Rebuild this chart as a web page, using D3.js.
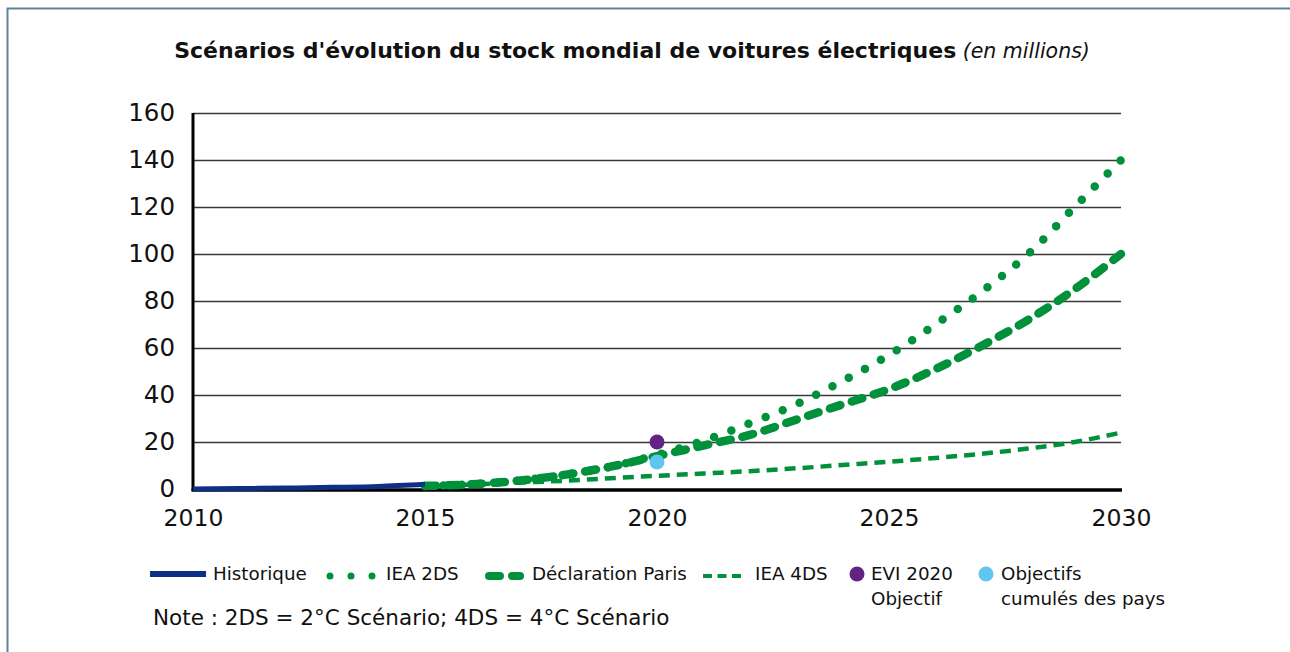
<!DOCTYPE html>
<html>
<head>
<meta charset="utf-8">
<script src="https://cdn.jsdelivr.net/npm/d3@7"></script>
<style>
  body { margin: 0; background: #fff; }
  svg { display: block; font-family: 'DejaVu Sans', sans-serif; }
</style>
</head>
<body>
<div id="chart"></div>
<script>
// CONST and GLOBALS
let width = 1290,
  height = 652;

// DATA (millions of electric cars)
let histYears = [2010, 2011, 2012, 2013, 2014, 2015];
let histValues = [0.05, 0.2, 0.4, 0.7, 1.1, 2.0];

let scenYears = [2015, 2016, 2017, 2018, 2019, 2020, 2021, 2022, 2023, 2024, 2025, 2026, 2027, 2028, 2029, 2030];
let iea2ds = [1.3, 2, 3.5, 6, 9.5, 14.5, 20.5, 28, 36, 46, 57, 70, 84, 100, 120, 140];
let paris = [1.3, 2, 3.5, 6, 9.5, 14, 18.5, 23, 29.5, 36, 42.5, 51, 61, 72, 85, 100];
let iea4ds = [1.3, 1.9, 2.7, 3.5, 4.6, 5.6, 6.6, 7.6, 8.8, 10.2, 11.6, 13.2, 15, 17.2, 20, 24];

let targetYear = 2020;
let eviTarget = 20;
let countryTargets = 11.5;

let yTicks = [0, 20, 40, 60, 80, 100, 120, 140, 160];
let xTicks = [2010, 2015, 2020, 2025, 2030];

let green = '#00913a';
let navy = '#0d2f85';
let purple = '#642283';
let lightBlue = '#5ec6ef';

let svg, xScale, yScale;

function init() {
  xScale = d3.scaleLinear().domain([2010, 2030]).range([193, 1121]);
  yScale = d3.scaleLinear().domain([0, 160]).range([489, 113]);

  svg = d3
    .select('#chart')
    .append('svg')
    .attr('width', width)
    .attr('height', height);

  // outer frame (only top and left edges visible)
  svg
    .append('rect')
    .attr('x', 7.5)
    .attr('y', 8.5)
    .attr('width', 1400)
    .attr('height', 800)
    .attr('fill', 'none')
    .attr('stroke', '#5e8297')
    .attr('stroke-width', 2);

  // title
  let title = svg
    .append('text')
    .attr('x', 632)
    .attr('y', 58)
    .attr('text-anchor', 'middle')
    .attr('font-size', 22)
    .attr('fill', '#111');
  title
    .append('tspan')
    .attr('font-weight', 'bold')
    .text("Scénarios d'évolution du stock mondial de voitures électriques");
  title
    .append('tspan')
    .attr('font-style', 'italic')
    .attr('font-size', 20.5)
    .text(' (en millions)');

  // grid lines
  svg
    .append('g')
    .attr('class', 'grid-lines')
    .attr('transform', `translate(${xScale(2010)},0)`)
    .call(
      d3.axisRight(yScale)
        .tickValues(yTicks.filter(d => d > 0))
        .tickSize(xScale(2030) - xScale(2010))
        .tickFormat('')
    )
    .call(g => g.select('.domain').remove())
    .call(g => g.selectAll('line').attr('stroke', '#3a3a3a').attr('stroke-width', 1.3));

  // y axis labels
  svg
    .append('g')
    .attr('class', 'axis y-axis')
    .attr('transform', `translate(${xScale(2010) - 15},0)`)
    .call(d3.axisLeft(yScale).tickValues(yTicks).tickSize(0).tickFormat(d3.format('d')))
    .call(g => g.select('.domain').remove())
    .call(g => g.selectAll('text').attr('font-size', 24.5).attr('fill', '#111').attr('font-family', "'DejaVu Sans', sans-serif"));

  // x axis labels
  svg
    .append('g')
    .attr('class', 'axis x-axis')
    .attr('transform', `translate(0,${yScale(0) + 17})`)
    .call(d3.axisBottom(xScale).tickValues(xTicks).tickSize(0).tickFormat(d3.format('d')))
    .call(g => g.select('.domain').remove())
    .call(g => g.selectAll('text').attr('font-size', 23.5).attr('fill', '#111').attr('font-family', "'DejaVu Sans', sans-serif"));

  // axis lines
  svg
    .append('line')
    .attr('x1', xScale(2010))
    .attr('x2', xScale(2010))
    .attr('y1', yScale(160))
    .attr('y2', yScale(0) + 2)
    .attr('stroke', '#000')
    .attr('stroke-width', 3);
  svg
    .append('line')
    .attr('x1', xScale(2010) - 1.5)
    .attr('x2', xScale(2030) + 1)
    .attr('y1', yScale(0) + 1)
    .attr('y2', yScale(0) + 1)
    .attr('stroke', '#000')
    .attr('stroke-width', 3.5);

  draw();
}

function draw() {
  let line = d3
    .line()
    .x(d => xScale(d[0]))
    .y(d => yScale(d[1]))
    .curve(d3.curveMonotoneX);

  let series = [
    { key: '4ds', values: iea4ds, width: 4.5, dash: '11 7', cap: 'butt' },
    { key: 'paris', values: paris, width: 8.5, dash: '11 12', cap: 'round' },
    { key: '2ds', values: iea2ds, width: 8.5, dash: null, cap: 'round' },
  ];

  svg
    .selectAll('.scenario')
    .data(series, d => d.key)
    .join('path')
    .attr('class', 'scenario')
    .attr('d', d => line(scenYears.map((y, i) => [y, d.values[i]])))
    .attr('fill', 'none')
    .attr('stroke', green)
    .attr('stroke-width', d => d.width)
    .attr('stroke-linecap', d => d.cap)
    .attr('stroke-dasharray', function (d) {
      if (d.dash) return d.dash;
      // dots: spread so that one dot sits near each end of the curve
      let len = this.getTotalLength();
      let n = Math.round(len / 18.5);
      return `0 ${(len - 0.6) / n}`;
    });

  // historical line
  svg
    .append('path')
    .attr('d', line(histYears.map((y, i) => [y, histValues[i]])))
    .attr('fill', 'none')
    .attr('stroke', navy)
    .attr('stroke-width', 5);

  // 2020 targets
  svg
    .selectAll('.target')
    .data([
      { v: eviTarget, c: purple },
      { v: countryTargets, c: lightBlue },
    ])
    .join('circle')
    .attr('class', 'target')
    .attr('cx', xScale(targetYear))
    .attr('cy', d => yScale(d.v))
    .attr('r', 7.5)
    .attr('fill', d => d.c);

  // LEGEND
  let lg = svg.append('g').attr('class', 'legend').attr('font-size', 18.3).attr('fill', '#111');
  let ly = 574;

  lg.append('line')
    .attr('x1', 150).attr('x2', 206).attr('y1', ly).attr('y2', ly)
    .attr('stroke', navy).attr('stroke-width', 6);
  lg.append('text').attr('x', 213).attr('y', ly + 6).text('Historique');

  lg.append('line')
    .attr('x1', 330).attr('x2', 373).attr('y1', ly + 2).attr('y2', ly + 2)
    .attr('stroke', green).attr('stroke-width', 7).attr('stroke-linecap', 'round')
    .attr('stroke-dasharray', '0 21');
  lg.append('text').attr('x', 386).attr('y', ly + 6).text('IEA 2DS');

  lg.append('line')
    .attr('x1', 489).attr('x2', 520).attr('y1', ly + 2).attr('y2', ly + 2)
    .attr('stroke', green).attr('stroke-width', 8).attr('stroke-linecap', 'round')
    .attr('stroke-dasharray', '11 12');
  lg.append('text').attr('x', 532).attr('y', ly + 6).text('Déclaration Paris');

  lg.append('line')
    .attr('x1', 703).attr('x2', 742).attr('y1', ly + 2).attr('y2', ly + 2)
    .attr('stroke', green).attr('stroke-width', 4)
    .attr('stroke-dasharray', '9 5.5');
  lg.append('text').attr('x', 755).attr('y', ly + 6).text('IEA 4DS');

  lg.append('circle').attr('cx', 857).attr('cy', ly).attr('r', 7.5).attr('fill', purple);
  let t1 = lg.append('text').attr('x', 871).attr('y', ly + 6);
  t1.append('tspan').text('EVI 2020');
  t1.append('tspan').attr('x', 871).attr('dy', 25).text('Objectif');

  lg.append('circle').attr('cx', 986).attr('cy', ly).attr('r', 7.5).attr('fill', lightBlue);
  let t2 = lg.append('text').attr('x', 1001).attr('y', ly + 6);
  t2.append('tspan').text('Objectifs');
  t2.append('tspan').attr('x', 1001).attr('dy', 25).text('cumulés des pays');

  lg.append('text')
    .attr('x', 153)
    .attr('y', 625)
    .attr('font-size', 21.5)
    .text('Note : 2DS = 2°C Scénario; 4DS = 4°C Scénario');
}

init();
</script>
</body>
</html>
